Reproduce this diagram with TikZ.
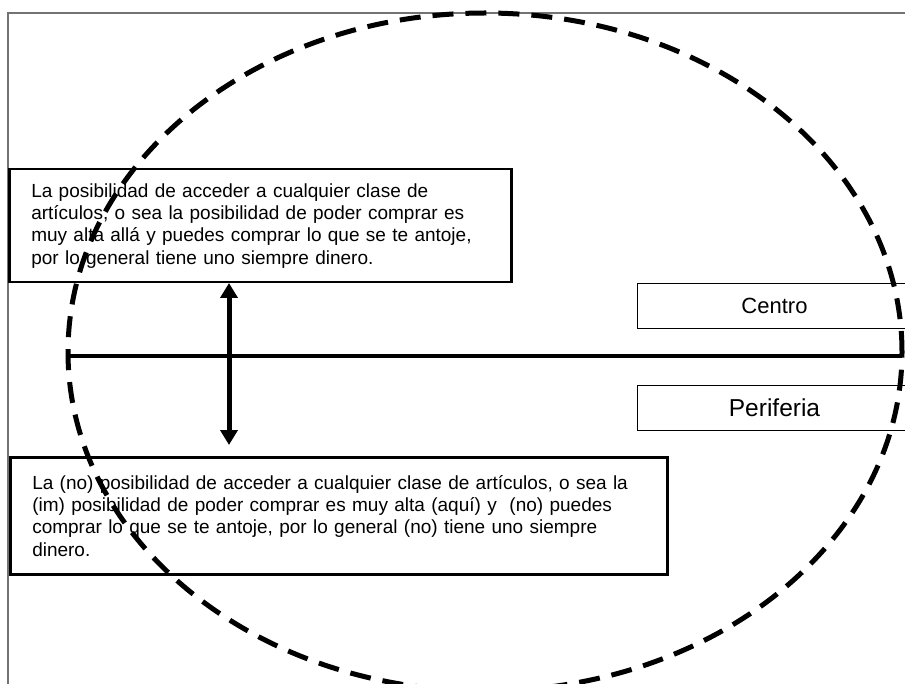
\documentclass[tikz,border=0pt]{standalone}
\usepackage{fontspec}
\setmainfont{Liberation Sans}
\usetikzlibrary{arrows.meta}

\tikzset{
  textbox/.style={draw=black, line width=2.5pt, fill=white, anchor=north west,
    align=left, inner xsep=22pt, inner ysep=0pt,
    font=\fontsize{19pt}{22.3pt}\selectfont},
  labelbox/.style={draw=black, line width=1pt, fill=white, anchor=north west,
    inner sep=0pt, minimum width=274pt, minimum height=45pt},
  frameline/.style={draw=black!55, line width=1.5pt},
  zone/.style={draw=black, line width=5pt, dash pattern=on 21pt off 12pt},
  divider/.style={draw=black, line width=4pt},
  twoway/.style={draw=black, line width=5pt,
    {Triangle[width=17pt,length=15pt]}-{Triangle[width=17pt,length=15pt]}}
}

\begin{document}
\begin{tikzpicture}[x=1pt, y=-1pt]
  \useasboundingbox (0,0) rectangle (905,684);
  \clip (0,0) rectangle (905,684);

  % outer frame (only its top and left sides fall on the page)
  \draw[frameline] (8,720) -- (8,13) -- (940,13);

  % upper text box
  \node[textbox, text width=458pt, minimum height=113pt] (arriba) at (8,168)
    {La posibilidad de acceder a cualquier clase de\\
     artículos, o sea la posibilidad de poder comprar es\\
     muy alta allá y puedes comprar lo que se te antoje,\\
     por lo general tiene uno siempre dinero.};

  % lower text box
  \node[textbox, text width=613pt, minimum height=117pt] (abajo) at (9,456)
    {La (no) posibilidad de acceder a cualquier clase de artículos, o sea la\\
     (im) posibilidad de poder comprar es muy alta (aquí) y \ (no) puedes\\
     comprar lo que se te antoje, por lo general (no) tiene uno siempre\\
     dinero.};

  % side labels
  \node[labelbox, font=\fontsize{22pt}{26pt}\selectfont] (centro) at (637,283) {Centro};
  \node[labelbox, font=\fontsize{24.5pt}{28pt}\selectfont] (periferia) at (637,385) {Periferia};

  % dividing line between centre and periphery
  \coordinate (izq) at (68,356);
  \coordinate (der) at (902,356);
  \draw[divider] (izq) -- (der);

  % double arrow between the two descriptions
  \coordinate (a1) at (229,283);
  \coordinate (a2) at (229,445);
  \draw[twoway] (a1) -- (a2);

  % dashed ellipse
  \draw[zone] (485,352) ellipse [x radius=417pt, y radius=339pt];
\end{tikzpicture}
\end{document}
